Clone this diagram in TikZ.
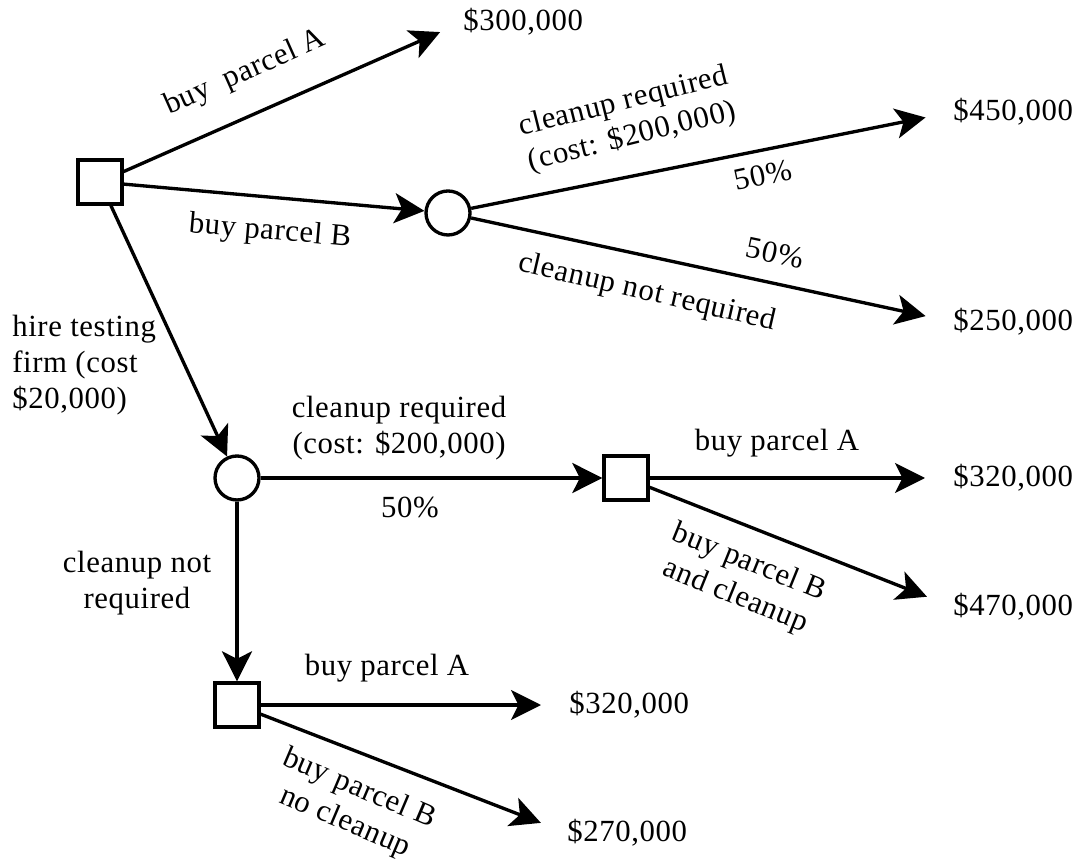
\documentclass[tikz,border=0pt]{standalone}
\usepackage{fontspec}
\setmainfont[LetterSpace=2]{Liberation Serif}
\usepackage{tikz}
\usetikzlibrary{arrows.meta}
\usetikzlibrary{shapes.geometric}

\tikzset{
  decision/.style={shape=rectangle, draw, line width=1.9pt, minimum width=0.88cm, minimum height=0.88cm, inner sep=0pt},
  chance/.style={shape=circle, draw, line width=1.9pt, minimum size=0.88cm, inner sep=0pt},
  payoff/.style={anchor=west, inner sep=0pt},
  branch/.style={line width=1.9pt, -{Stealth[length=6mm, width=6mm, inset=1.5mm]}, shorten >=0.56cm},
  lbl/.style={align=center, inner sep=0pt}
}

\begin{document}
\begin{tikzpicture}[font=\fontsize{17.5}{20.5}\selectfont]
    		\useasboundingbox (0,0) rectangle (21.66,17.26);
    		% Decision and chance nodes:
    		\node[decision](D1) at (2.0, 13.62){};
    		\node[chance](C1) at (8.96, 13.0){};
    		\node[chance](C2) at (4.74, 7.7){};
    		\node[decision](D3) at (12.52, 7.7){};
    		\node[decision](D4) at (4.74, 3.16){};
    		% Payoffs:
    		\node[payoff](V300) at (9.26, 16.82){\$300,000};
    		\node[payoff](V450) at (19.06, 15.02){\$450,000};
    		\node[payoff](V250) at (19.06, 10.82){\$250,000};
    		\node[payoff](V320a) at (19.06, 7.7){\$320,000};
    		\node[payoff](V470) at (19.06, 5.12){\$470,000};
    		\node[payoff](V320b) at (11.38, 3.16){\$320,000};
    		\node[payoff](V270) at (11.34, 0.6){\$270,000};
    		% Branches:
    		\draw[branch, shorten >=0.5cm] (D1) -- (V300.west);
    		\draw[branch, shorten >=0pt] (D1) -- (C1);
    		\draw[branch, shorten >=0pt] (D1) -- (C2);
    		\draw[branch] (C1) -- (V450.west);
    		\draw[branch] (C1) -- (V250.west);
    		\draw[branch, shorten >=0pt] (C2) -- (D3);
    		\draw[branch, shorten >=0pt] (C2) -- (D4);
    		\draw[branch] (D3) -- (V320a.west);
    		\draw[branch] (D3) -- (V470.west);
    		\draw[branch] (D4) -- (V320b.west);
    		\draw[branch] (D4) -- (V270.west);
    		% Labels:
    		\node[lbl, rotate=24](L1) at (4.9, 15.8){buy\ \ parcel A};
    		\node[lbl, rotate=-5](L2) at (5.4, 12.62){buy parcel B};
    		\node[lbl, rotate=14](L3) at (12.56, 14.86){cleanup required\\(cost: \$200,000)};
    		\node[lbl, rotate=12](L4) at (15.26, 13.76){50\%};
    		\node[lbl, rotate=-12](L5) at (15.5, 12.2){50\%};
    		\node[lbl, rotate=-13](L6) at (12.94, 11.4){cleanup not required};
    		\node[anchor=west, align=left, inner sep=0pt](L7) at (0.24, 9.96){hire testing\\firm (cost\\\$20,000)};
    		\node[lbl](L8) at (7.98, 8.7){cleanup required\\(cost: \$200,000)};
    		\node[lbl](L9) at (8.2, 7.12){50\%};
    		\node[lbl](L10) at (2.74, 5.6){cleanup not\\required};
    		\node[lbl](L11) at (15.54, 8.4){buy parcel A};
    		\node[lbl, rotate=-22](L12) at (14.84, 5.66){buy parcel B\\and cleanup};
    		\node[lbl](L13) at (7.74, 3.9){buy parcel A};
    		\node[lbl, rotate=-23](L14) at (7.04, 1.14){buy parcel B\\no cleanup};
    	\end{tikzpicture}
\end{document}
